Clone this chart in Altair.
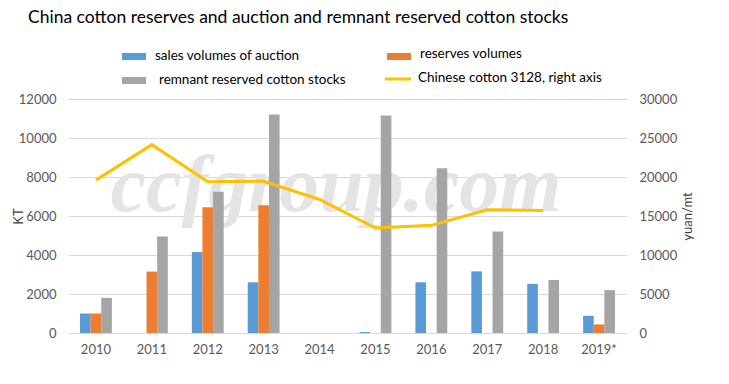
import altair as alt
import pandas as pd

years = ["2010", "2011", "2012", "2013", "2014", "2015", "2016", "2017", "2018", "2019*"]
auction = [1000, 0, 4150, 2600, 0, 50, 2600, 3160, 2520, 880]
reserves = [1000, 3150, 6450, 6550, 0, 0, 0, 0, 0, 440]
remnant = [1800, 4950, 7250, 11200, 0, 11150, 8450, 5200, 2720, 2200]
price_years = ["2010", "2011", "2012", "2013", "2014", "2015", "2016", "2017", "2018"]
price = [19600, 24150, 19400, 19450, 17120, 13450, 13800, 15800, 15720]

series = ["sales volumes of auction", "reserves volumes", "remnant reserved cotton stocks"]
colors = ["#5B9BD5", "#ED7D31", "#A5A5A5"]
line_name = "Chinese cotton 3128, right axis"
line_color = "#FFC000"
chart_title = "China cotton reserves and auction and remnant reserved cotton stocks"

rows = []
for i, y in enumerate(years):
    for s, vals in zip(series, [auction, reserves, remnant]):
        rows.append({"year": y, "series": s, "value": vals[i]})
bars_df = pd.DataFrame(rows)
line_df = pd.DataFrame({"year": price_years, "price": price})

FONT = "Lato"
LABEL_COLOR = "#595959"

xscale = alt.Scale(domain=years, paddingInner=0.43, paddingOuter=0.215)

x_enc = alt.X("year:N", scale=xscale, sort=years,
              axis=alt.Axis(title=None, labelAngle=0, ticks=False, domain=False,
                            labelFont=FONT, labelFontSize=13, labelColor=LABEL_COLOR,
                            labelPadding=10, grid=False))

watermark = alt.Chart(pd.DataFrame({"t": ["ccfgroup.com"]})).mark_text(
    font="Liberation Serif", fontStyle="italic", fontWeight="bold", fontSize=80, color="#E4E4E4",
    align="center", baseline="middle"
).encode(text="t:N", x=alt.value(268), y=alt.value(88))

bars = alt.Chart(bars_df).mark_bar().encode(
    x=x_enc,
    xOffset=alt.XOffset("series:N", sort=series, scale=alt.Scale(domain=series, paddingInner=0, paddingOuter=0)),
    y=alt.Y("value:Q", scale=alt.Scale(domain=[0, 12000]),
            axis=alt.Axis(orient="left", title="KT", values=list(range(0, 12001, 2000)), format="d",
                          ticks=False, domain=False, gridColor="#D9D9D9",
                          labelFont=FONT, labelFontSize=13, labelColor=LABEL_COLOR,
                          labelPadding=12, titleFont=FONT, titleFontSize=13,
                          titleFontWeight="normal", titleColor="#404040",
                          titleX=-50, titleY=117, titleAngle=270,
                          titleAlign="center", titleBaseline="middle")),
    color=alt.Color("series:N", scale=alt.Scale(domain=series, range=colors), legend=None),
)

line = alt.Chart(line_df).mark_line(color=line_color, strokeWidth=3).encode(
    x=alt.X("year:N", scale=xscale, sort=years),
    y=alt.Y("price:Q", scale=alt.Scale(domain=[0, 30000]),
            axis=alt.Axis(orient="right", title="yuan/mt", values=list(range(0, 30001, 5000)), format="d",
                          ticks=False, domain=False, grid=False,
                          labelFont=FONT, labelFontSize=13, labelColor=LABEL_COLOR,
                          labelPadding=12, titleFont=FONT, titleFontSize=13,
                          titleFontWeight="normal", titleColor="#404040",
                          titleX=60, titleY=117, titleAngle=270,
                          titleAlign="center", titleBaseline="middle")),
)

leg_rect_df = pd.DataFrame({
    "name": series,
    "x": [54, 319, 54], "x2": [78, 343, 78],
    "y": [-46, -46, -22], "y2": [-39, -39, -15],
})
leg_rects = alt.Chart(leg_rect_df).mark_rect().encode(
    x=alt.X("x:Q", scale=None), x2="x2:Q",
    y=alt.Y("y:Q", scale=None), y2="y2:Q",
    color=alt.Color("name:N", scale=alt.Scale(domain=series, range=colors), legend=None),
)
leg_line = alt.Chart(pd.DataFrame({"a": [0]})).mark_rule(color=line_color, strokeWidth=3).encode(
    x=alt.value(317), x2=alt.value(343), y=alt.value(-20)
)
leg_text_df = pd.DataFrame({
    "label": series + [line_name],
    "x": [87, 352, 91, 350],
    "y": [-43, -45, -19, -21],
})
leg_text = alt.Chart(leg_text_df).mark_text(
    font=FONT, fontSize=13.5, color="#000000", align="left", baseline="middle"
).encode(text="label:N", x=alt.X("x:Q", scale=None), y=alt.Y("y:Q", scale=None))

chart = alt.layer(
    watermark, bars, line, leg_rects, leg_line, leg_text
).resolve_scale(y="independent", color="independent").properties(
    width=559, height=234,
    title=alt.TitleParams(chart_title, anchor="start", dx=16, offset=21,
                          font=FONT, fontSize=17.5, fontWeight="normal", color="#000000"),
    autosize=alt.AutoSizeParams(type="none"),
    padding={"left": 60, "top": 91, "right": 94, "bottom": 43},
    background="white",
).configure_view(stroke=None)

chart.save("out.html", embed_options={"renderer": "svg", "actions": False})
